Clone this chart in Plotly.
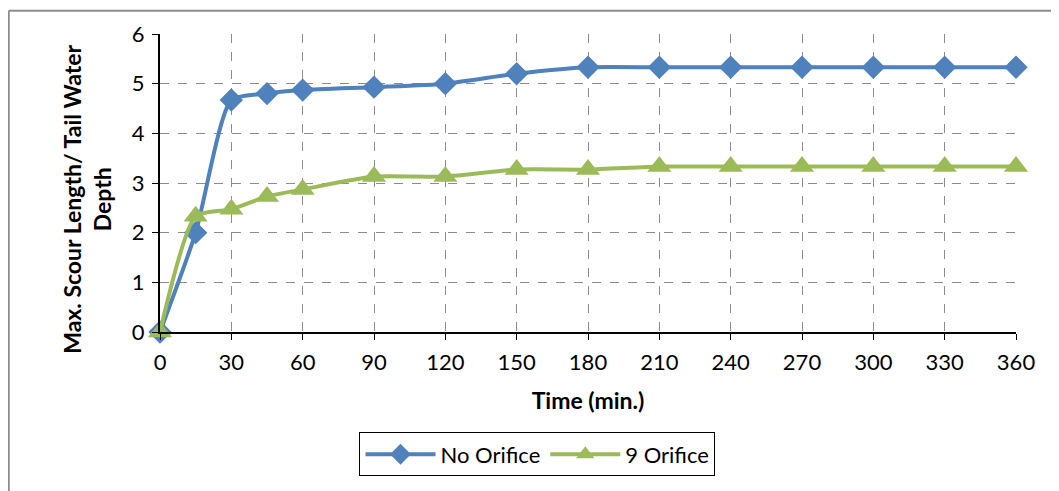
import plotly.graph_objects as go

time_min = [0, 15, 30, 45, 60, 90, 120, 150, 180, 210, 240, 270, 300, 330, 360]
no_orifice = [0, 2.0, 4.67, 4.8, 4.87, 4.93, 5.0, 5.2, 5.33, 5.33, 5.33, 5.33, 5.33, 5.33, 5.33]
nine_orifice = [0, 2.33, 2.47, 2.73, 2.87, 3.13, 3.13, 3.27, 3.27, 3.33, 3.33, 3.33, 3.33, 3.33, 3.33]
x_ticks = [0, 30, 60, 90, 120, 150, 180, 210, 240, 270, 300, 330, 360]
y_ticks = [0, 1, 2, 3, 4, 5, 6]

FONT = "Lato"
BLUE = "#4F81BD"
GREEN = "#9BBB59"

fig = go.Figure()
fig.add_trace(go.Scatter(
    x=time_min, y=no_orifice, name="No Orifice", mode="lines+markers",
    line=dict(color=BLUE, width=4, shape="spline", smoothing=0.6),
    marker=dict(symbol="diamond", size=18, color=BLUE),
    cliponaxis=False,
))
fig.add_trace(go.Scatter(
    x=time_min, y=nine_orifice, name="9 Orifice", mode="lines+markers",
    line=dict(color=GREEN, width=4, shape="spline", smoothing=0.6),
    marker=dict(symbol="triangle-up", size=21, color=GREEN),
    cliponaxis=False,
))

fig.update_layout(
    width=1051, height=483,
    margin=dict(l=152, r=43, t=24, b=159),
    paper_bgcolor="white", plot_bgcolor="white",
    font=dict(family=FONT, size=22, color="black"),
    showlegend=True,
    legend=dict(
        orientation="h", x=0.441, xanchor="center", y=-0.337, yanchor="top",
        bordercolor="black", borderwidth=1, font=dict(size=22),
        itemwidth=70, tracegroupgap=0,
    ),
    xaxis=dict(
        range=[0, 360], tickmode="array", tickvals=x_ticks,
        ticktext=[str(v) for v in x_ticks],
        showgrid=True, gridcolor="#8c8c8c", griddash="dash", gridwidth=1,
        showline=True, linecolor="black", linewidth=2,
        ticks="outside", ticklen=6, tickcolor="black", tickwidth=1,
        zeroline=False, tickfont=dict(size=22), ticklabelstandoff=4,
        title=dict(text="<b>Time (min.)</b>", font=dict(size=23), standoff=18),
    ),
    yaxis=dict(
        range=[0, 6], tickmode="array", tickvals=y_ticks,
        showgrid=True, gridcolor="#8c8c8c", griddash="dash", gridwidth=1,
        showline=True, linecolor="black", linewidth=2,
        ticks="outside", ticklen=6, tickcolor="black", tickwidth=1,
        zeroline=False, tickfont=dict(size=22), ticklabelstandoff=3,
    ),
    annotations=[dict(
        text="<b>Max. Scour Length/ Tail Water<br>Depth</b>",
        xref="paper", yref="paper", x=-0.0853, y=0.447,
        xanchor="center", yanchor="middle", textangle=-90,
        showarrow=False, font=dict(size=23, family=FONT),
    )],
    shapes=[
        dict(type="line", xref="paper", yref="paper", x0=-0.1767, x1=1.1, y0=1.078, y1=1.078,
             line=dict(color="#8c8c8c", width=2)),
        dict(type="line", xref="paper", yref="paper", x0=-0.1767, x1=-0.1767, y0=1.078, y1=-0.6,
             line=dict(color="#8c8c8c", width=2)),
    ],
)

fig.write_html("out.html")
